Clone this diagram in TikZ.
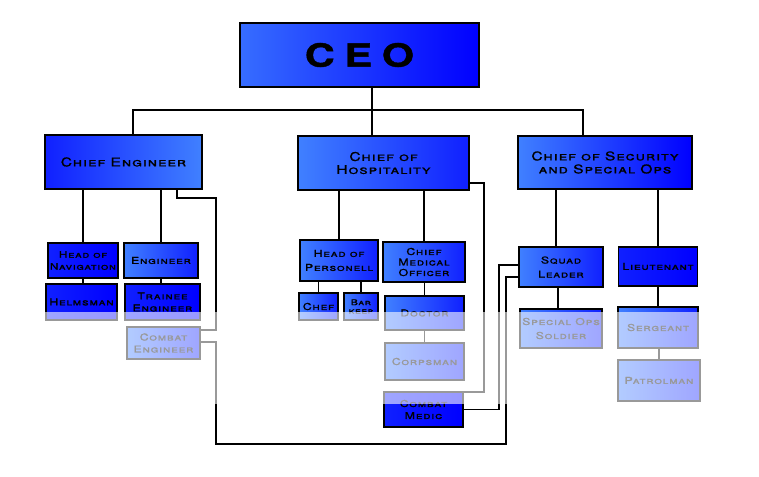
\documentclass[tikz,border=0pt]{standalone}
\usepackage{fontspec}
\setmainfont{TeX Gyre Heros}[FakeStretch=1.3, LetterSpace=8, FakeBold=1.2]
\usepackage{xcolor}
\usepackage{tikz}
\usetikzlibrary{positioning}
\definecolor{boxlight}{RGB}{64,128,255}
\definecolor{boxdark}{RGB}{16,32,255}

\begin{document}
\begin{tikzpicture}[x=1pt, y=-1pt,
    orgbox/.style={draw=black, line width=1.8pt, inner sep=0pt, align=center, text=black,
        left color=boxlight, right color=boxdark},
    chiefbox/.style={orgbox, font=\fontsize{12}{13}\selectfont\scshape},
    unitbox/.style={orgbox, font=\fontsize{9.5}{12}\selectfont\scshape},
    link/.style={draw=black, line width=1.8pt}]
    \useasboundingbox (0,0) rectangle (759,476);

    % Top
    \node[orgbox, minimum width=239, minimum height=64, left color=boxlight!80!boxdark, right color=blue] (ceo) at (359.5,55)
        {\fontsize{32}{32}\selectfont\bfseries\addfontfeature{LetterSpace=30}CEO};

    % Chiefs
    \node[chiefbox, minimum width=157, minimum height=54, left color=boxdark, right color=boxlight] (ce) at (123.5,162) {Chief Engineer};
    \node[chiefbox, minimum width=171, minimum height=54] (ch) at (383.5,163) {Chief of\\Hospitality};
    \node[chiefbox, minimum width=174, minimum height=53, right color=blue] (cs) at (605,162.5) {Chief of Security\\and Special Ops};

    % Engineering
    \node[unitbox, minimum width=70, minimum height=35, left color=boxdark, right color=blue, font=\fontsize{9}{12}\selectfont\scshape] (nav) at (83,260.5) {Head of\\Navigation};
    \node[unitbox, minimum width=74, minimum height=35] (eng) at (161,260.5) {Engineer};
    \node[unitbox, minimum width=71, minimum height=36, left color=boxdark, right color=blue] (helm) at (81.5,302) {Helmsman};
    \node[unitbox, minimum width=75, minimum height=36, left color=boxdark, right color=blue] (trainee) at (162.5,302) {Trainee\\Engineer};
    \node[unitbox, minimum width=73, minimum height=32] (combateng) at (163.5,343) {Combat\\Engineer};

    % Hospitality
    \node[unitbox, minimum width=78, minimum height=41, font=\fontsize{9.5}{14}\selectfont\scshape] (hop) at (339,260.5) {Head of\\Personell};
    \node[unitbox, minimum width=82, minimum height=40, font=\fontsize{9.5}{10.5}\selectfont\scshape] (cmo) at (424,262) {Chief\\Medical\\Officer};
    \node[unitbox, minimum width=39, minimum height=27] (chef) at (318.5,306.5) {Chef};
    \node[unitbox, minimum width=34, minimum height=27, font=\fontsize{8}{8.5}\selectfont\scshape] (bar) at (361,306.5) {Bar\\keep};
    \node[unitbox, minimum width=79, minimum height=34] (doctor) at (424.5,313) {Doctor};
    \node[unitbox, minimum width=79, minimum height=37] (corpsman) at (424.5,361.5) {Corpsman};
    \node[unitbox, minimum width=79, minimum height=35, left color=boxdark, right color=blue] (medic) at (423.5,409.5) {Combat\\Medic};

    % Security
    \node[unitbox, minimum width=84, minimum height=40, font=\fontsize{9.5}{14}\selectfont\scshape] (squad) at (561,267) {Squad\\Leader};
    \node[unitbox, minimum width=79, minimum height=39, left color=boxdark, right color=blue] (lt) at (658,266.5) {Lieutenant};
    \node[unitbox, minimum width=82, minimum height=39, font=\fontsize{9.5}{14}\selectfont\scshape] (sos) at (561,328.5) {Special Ops\\Soldier};
    \node[unitbox, minimum width=80, minimum height=41] (sgt) at (658,327.5) {Sergeant};
    \node[unitbox, minimum width=82, minimum height=41] (patrol) at (659,380.5) {Patrolman};

    % Links from the top
    \coordinate (bus) at (372,110);
    \draw[link] ([xshift=12.5]ceo.south) -- (bus);
    \draw[link] ([xshift=9.5]ce.north) |- (bus) -| ([xshift=-22]cs.north);
    \draw[link] ([xshift=-11.5]ch.north) -- (bus);

    % Links below the chiefs
    \draw[link] (nav.north) -- (nav.north |- ce.south);
    \draw[link] (eng.north) -- (eng.north |- ce.south);
    \draw[link] (nav.south) -- (nav.south |- helm.north);
    \draw[link] (eng.south) -- (eng.south |- trainee.north);
    \draw[link] (hop.north) -- (hop.north |- ch.south);
    \draw[link] (cmo.north) -- (cmo.north |- ch.south);
    \draw[link] (chef.north) -- (chef.north |- hop.south);
    \draw[link] (bar.north) -- (bar.north |- hop.south);
    \draw[link] (doctor.north) -- (doctor.north |- cmo.south);
    \draw[link] (corpsman.north) -- (corpsman.north |- doctor.south);
    \draw[link] ([xshift=-5]squad.north) -- ++(0,-56);
    \draw[link] (lt.north) -- (lt.north |- cs.south);
    \draw[link] ([xshift=-3]sos.north) -- ++(0,-20);
    \draw[link] (sgt.north) -- (sgt.north |- lt.south);
    \draw[link] (patrol.north) -- (patrol.north |- sgt.south);

    % Combat posts
    \draw[link] ([xshift=53.5]ce.south) |- (216,198) |- ([yshift=13]combateng.east);
    \draw[link] ([yshift=1]combateng.east) -| (216,444) -| (506,277) -- ([yshift=-10]squad.west);
    \draw[link] ([yshift=-20]ch.east) -| (484,392) -- ([yshift=17.5]medic.east);
    \draw[link] (medic.east) -| (499,265) -- ([yshift=2]squad.west);

    % Pale band
    \fill[white, opacity=0.6] (0,312) rectangle (759,404);
\end{tikzpicture}
\end{document}
